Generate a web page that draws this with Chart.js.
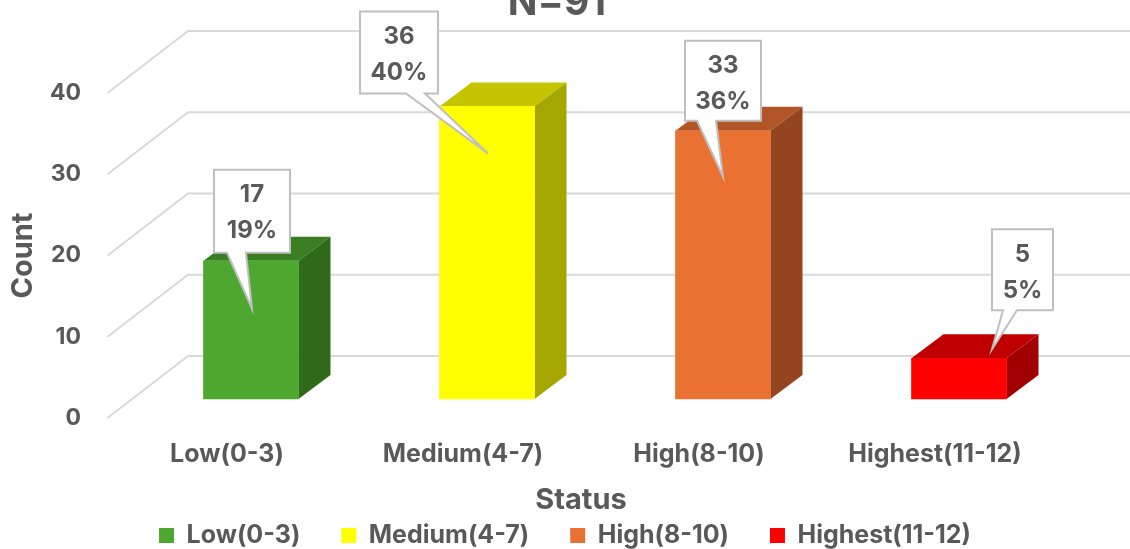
<!DOCTYPE html>
<html>
<head>
<meta charset="utf-8">
<title>Status distribution</title>
<script src="https://cdn.jsdelivr.net/npm/chart.js@4"></script>
<style>
  html, body { margin: 0; padding: 0; background: #fff; }
  canvas { display: block; }
</style>
</head>
<body>
<canvas id="chart" width="1130" height="549"></canvas>
<script>
// Survey results by status band
const categories = ['Low(0-3)', 'Medium(4-7)', 'High(8-10)', 'Highest(11-12)'];
const counts = [17, 36, 33, 5];
const percents = ['19%', '40%', '36%', '5%'];
const yTicks = [0, 10, 20, 30, 40];
const chartTitle = 'N=91';
const xTitle = 'Status';
const yTitle = 'Count';

// Face colours for the extruded bars
const frontColors = ['#4EA72E', '#FFFF00', '#E97132', '#FF0000'];
const topColors = ['#3A7D22', '#C4C400', '#B35627', '#C00000'];
const sideColors = ['#2F6A1B', '#A6A600', '#94451F', '#A00000'];

const textColor = '#595959';
const fontFamily = 'Inter, sans-serif';
const gridColor = '#D9D9D9';

// Projection of the depth axis
const wallDepth = { dx: 80.5, dy: -62 };
const barDepth = { dx: 32, dy: -24 };
const floorLift = 2.35; // bars stand on a floor raised above the front edge of the wall grid

// Callout boxes, relative to the top-centre of their bar
const callouts = [
  { box: [-37, 39, -91, -8], base: [-24, -5], tip: [1, 48] },
  { box: [-127, -49, -95, -13], base: [-81, -62], tip: [1, 47] },
  { box: [-38, 38, -90, -10], base: [-26, -7], tip: [0, 46] },
  { box: [33, 94, -129, -48], base: [44, 58], tip: [33, -9] }
];

const threeD = {
  id: 'threeD',
  beforeDatasetsDraw(chart) {
    const { ctx, scales } = chart;
    // Wall grid: a diagonal from the front edge, then along the back wall
    ctx.save();
    ctx.strokeStyle = gridColor;
    ctx.lineWidth = 2;
    yTicks.forEach(v => {
      const y = scales.y.getPixelForValue(v);
      ctx.beginPath();
      ctx.moveTo(107.5, y);
      ctx.lineTo(107.5 + wallDepth.dx, y + wallDepth.dy);
      ctx.lineTo(chart.width, y + wallDepth.dy);
      ctx.stroke();
    });
    // Top and side faces behind each front face
    chart.getDatasetMeta(0).data.forEach((bar, i) => {
      const l = bar.x - bar.width / 2, r = bar.x + bar.width / 2;
      ctx.fillStyle = topColors[i];
      ctx.beginPath();
      ctx.moveTo(l, bar.y);
      ctx.lineTo(l + barDepth.dx, bar.y + barDepth.dy);
      ctx.lineTo(r + barDepth.dx, bar.y + barDepth.dy);
      ctx.lineTo(r, bar.y);
      ctx.closePath();
      ctx.fill();
      ctx.fillStyle = sideColors[i];
      ctx.beginPath();
      ctx.moveTo(r, bar.y);
      ctx.lineTo(r + barDepth.dx, bar.y + barDepth.dy);
      ctx.lineTo(r + barDepth.dx, bar.base + barDepth.dy);
      ctx.lineTo(r, bar.base);
      ctx.closePath();
      ctx.fill();
    });
    ctx.restore();
  },
  afterDatasetsDraw(chart) {
    const { ctx } = chart;
    ctx.save();
    chart.getDatasetMeta(0).data.forEach((bar, i) => {
      const c = callouts[i];
      const x0 = bar.x + c.box[0], x1 = bar.x + c.box[1];
      const y0 = bar.y + c.box[2], y1 = bar.y + c.box[3];
      ctx.beginPath();
      ctx.moveTo(x0, y0);
      ctx.lineTo(x1, y0);
      ctx.lineTo(x1, y1);
      ctx.lineTo(bar.x + c.base[1], y1);
      ctx.lineTo(bar.x + c.tip[0], bar.y + c.tip[1]);
      ctx.lineTo(bar.x + c.base[0], y1);
      ctx.lineTo(x0, y1);
      ctx.closePath();
      ctx.fillStyle = '#FFFFFF';
      ctx.fill();
      ctx.strokeStyle = '#BFBFBF';
      ctx.lineWidth = 2;
      ctx.lineJoin = 'miter';
      ctx.stroke();
      ctx.fillStyle = textColor;
      ctx.font = '700 24px ' + fontFamily;
      ctx.textAlign = 'center';
      ctx.textBaseline = 'middle';
      const cx = (x0 + x1) / 2;
      ctx.fillText(String(counts[i]), cx, y0 + 25);
      ctx.fillText(percents[i], cx, y0 + 61);
    });
    ctx.restore();
  },
  afterDraw(chart) {
    const { ctx } = chart;
    ctx.save();
    ctx.fillStyle = textColor;
    ctx.textAlign = 'center';
    ctx.textBaseline = 'alphabetic';
    ctx.font = '700 39px ' + fontFamily;
    ctx.fillText(chartTitle, 557, 15);
    ctx.font = '700 29px ' + fontFamily;
    ctx.fillText(xTitle, 581, 509);
    ctx.restore();
  }
};

new Chart(document.getElementById('chart'), {
  type: 'bar',
  data: {
    labels: categories,
    datasets: [{
      label: 'Count',
      data: counts,
      yAxisID: 'yBars',
      backgroundColor: frontColors,
      borderWidth: 0,
      barThickness: 95
    }]
  },
  plugins: [threeD],
  options: {
    responsive: false,
    animation: false,
    devicePixelRatio: 1,
    layout: { padding: { top: 93, left: 0, right: 0, bottom: -9 } },
    plugins: {
      title: { display: false },
      tooltip: { enabled: false },
      legend: {
        position: 'bottom',
        labels: {
          boxWidth: 15,
          boxHeight: 15,
          padding: 41,
          color: textColor,
          font: { family: fontFamily, size: 25, weight: '700' },
          generateLabels: () => categories.map((text, i) => ({
            text,
            fillStyle: frontColors[i],
            strokeStyle: frontColors[i],
            lineWidth: 0,
            fontColor: textColor,
            hidden: false,
            index: i
          }))
        }
      }
    },
    scales: {
      x: {
        type: 'category',
        grid: { display: false, drawTicks: false },
        border: { display: false },
        afterFit(s) { s.height = 64; },
        ticks: {
          color: textColor,
          padding: 21,
          labelOffset: -24,
          maxRotation: 0,
          autoSkip: false,
          font: { family: fontFamily, size: 25, weight: '700' }
        }
      },
      y: {
        min: 0,
        max: 40,
        position: 'left',
        grid: { display: false, drawTicks: false },
        border: { display: false },
        afterFit(s) { s.width = 133; },
        afterBuildTicks(s) { s.ticks = yTicks.map(value => ({ value })); },
        title: {
          display: true,
          text: yTitle,
          color: textColor,
          font: { family: fontFamily, size: 29, weight: '700' },
          padding: { top: 6, bottom: 0 }
        },
        ticks: {
          color: textColor,
          padding: 52,
          font: { family: fontFamily, size: 23, weight: '700' }
        }
      },
      yBars: {
        min: -floorLift,
        max: 40 - floorLift,
        position: 'right',
        grid: { display: false, drawTicks: false },
        border: { display: false },
        ticks: { display: false },
        afterFit(s) { s.width = 53; }
      }
    }
  }
});
</script>
</body>
</html>
